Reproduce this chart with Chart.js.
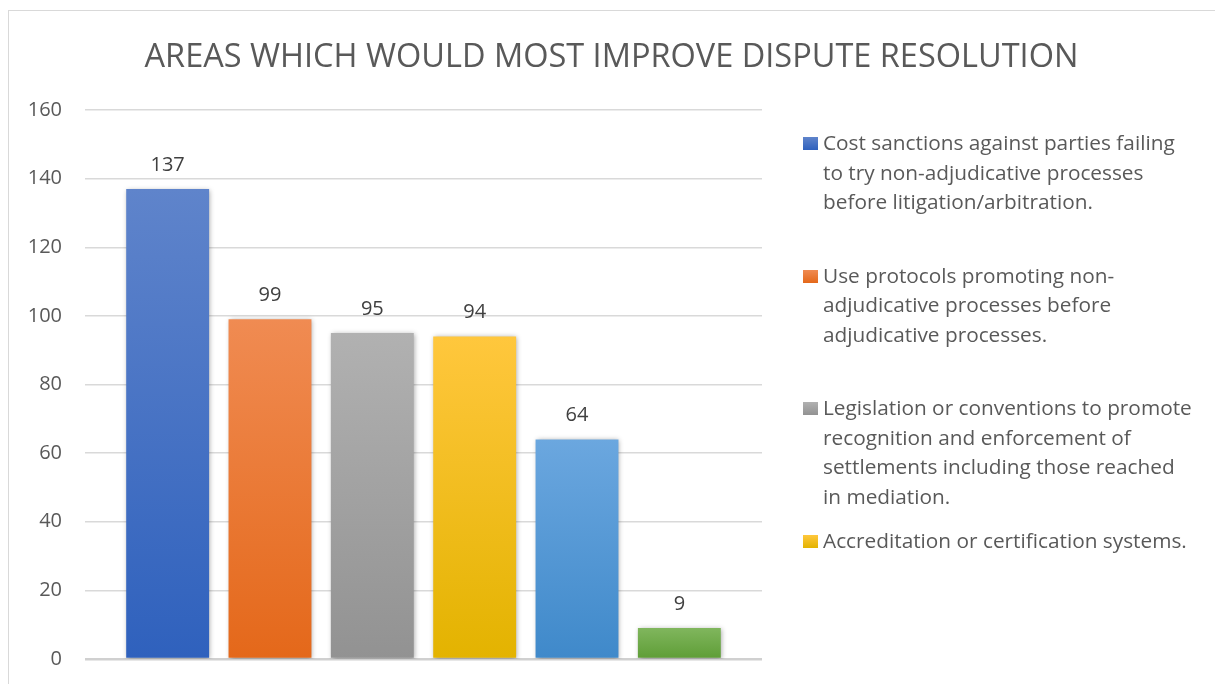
<!DOCTYPE html>
<html>
<head>
<meta charset="utf-8">
<script src="https://cdn.jsdelivr.net/npm/chart.js@4/dist/chart.umd.min.js"></script>
<style>
  body { margin: 0; background: #fff; }
  #wrap { position: relative; width: 1215px; height: 684px; overflow: hidden; }
  #frame { position: absolute; left: 8px; top: 10px; width: 1300px; height: 800px;
           border-top: 1.5px solid #d9d9d9; border-left: 1.5px solid #d9d9d9; }
  #chart { position: absolute; left: 0; top: 10px; }
  #title { position: absolute; left: 0; width: 1223px; top: 32px; text-align: center;
           font-family: "Open Sans", sans-serif; font-size: 32.5px; line-height: 46px;
           color: #595959; white-space: nowrap; }
  #legend { position: absolute; left: 803px; top: 0; font-family: "Open Sans", sans-serif;
            font-size: 20.8px; color: #595959; }
  .item { position: absolute; left: 0; width: 410px; line-height: 29.5px; }
  .box { position: absolute; left: 0; top: 9px; width: 15px; height: 13px; }
  .txt { margin-left: 20px; white-space: nowrap; }
</style>
</head>
<body>
<div id="wrap">
  <div id="frame"></div>
  <canvas id="chart" width="1215" height="684"></canvas>
  <div id="title"></div>
  <div id="legend"></div>
</div>
<script>
const chartTitle = "AREAS WHICH WOULD MOST IMPROVE DISPUTE RESOLUTION";
const seriesLabels = [
  ["Cost sanctions against parties failing", "to try non-adjudicative processes", "before litigation/arbitration."],
  ["Use protocols promoting non-", "adjudicative processes before", "adjudicative processes."],
  ["Legislation or conventions to promote", "recognition and enforcement of", "settlements including those reached", "in mediation."],
  ["Accreditation or certification systems."],
  ["Other measures"],
  ["Other"]
];
const seriesValues = [137, 99, 95, 94, 64, 9];
const yTicks = [0, 20, 40, 60, 80, 100, 120, 140, 160];
const legendShown = 4; // legend is cut off after the 4th entry

// gradient end colours, top -> bottom
const topColors = ["#5f84cb", "#f08b52", "#b1b1b1", "#ffc73d", "#6ba7df", "#80b65d"];
const bottomColors = ["#2f61bd", "#e4681a", "#929292", "#e3b300", "#3f89ca", "#5e9d36"];
const midColors = ["#4472c4", "#ed7d31", "#a5a5a5", "#ffc000", "#5b9bd5", "#70ad47"];

function barFill(c) {
  const i = c.datasetIndex;
  const chart = c.chart;
  if (!chart.chartArea) return midColors[i];
  const y = chart.scales.y;
  const top = y.getPixelForValue(seriesValues[i]);
  const bottom = y.getPixelForValue(0);
  const g = chart.ctx.createLinearGradient(0, top, 0, bottom);
  g.addColorStop(0, topColors[i]);
  g.addColorStop(1, bottomColors[i]);
  return g;
}

const barShadow = {
  id: "barShadow",
  beforeDatasetsDraw(chart) {
    const ctx = chart.ctx;
    ctx.save();
    ctx.shadowColor = "rgba(0,0,0,0.35)";
    ctx.shadowBlur = 5;
    ctx.shadowOffsetX = 1;
    ctx.shadowOffsetY = 1;
  },
  afterDatasetsDraw(chart) {
    const ctx = chart.ctx;
    ctx.restore();
    // value labels above the bars
    ctx.save();
    ctx.font = "20px 'Open Sans', sans-serif";
    ctx.fillStyle = "#404040";
    ctx.textAlign = "center";
    ctx.textBaseline = "middle";
    chart.data.datasets.forEach((ds, i) => {
      const bar = chart.getDatasetMeta(i).data[0];
      ctx.fillText(String(ds.data[0]), bar.x, bar.y - 24);
    });
    ctx.restore();
  }
};

const chart = new Chart(document.getElementById("chart"), {
  type: "bar",
  data: {
    labels: [""],
    datasets: seriesValues.map((v, i) => ({
      label: seriesLabels[i].join(" "),
      data: [v],
      backgroundColor: barFill,
      borderWidth: 0,
      categoryPercentage: 0.907,
      barPercentage: 0.81
    }))
  },
  options: {
    responsive: false,
    animation: false,
    layout: { padding: { left: 23, right: 453, top: 100, bottom: 16 } },
    plugins: {
      legend: { display: false },
      tooltip: { enabled: false }
    },
    scales: {
      x: { display: false },
      y: {
        min: 0,
        max: 160,
        afterBuildTicks: (s) => { s.ticks = yTicks.map((v) => ({ value: v })); },
        afterFit: (s) => { s.width = 62; },
        ticks: { color: "#595959", font: { family: "'Open Sans', sans-serif", size: 20 }, padding: 23 },
        grid: {
          color: (c) => (c.tick && c.tick.value === 0 ? "#d0d0d0" : "#d9d9d9"),
          lineWidth: (c) => (c.tick && c.tick.value === 0 ? 2.5 : 1.5),
          drawTicks: false
        },
        border: { display: false }
      }
    }
  },
  plugins: [barShadow]
});

document.getElementById("title").textContent = chartTitle;

// html legend, only the entries that fit in the original
const legendEl = document.getElementById("legend");
chart.data.datasets.slice(0, legendShown).forEach((ds, i) => {
  const item = document.createElement("div");
  item.className = "item";
  item.style.top = (128 + i * 132.5) + "px";
  item.innerHTML = `<span class="box" style="background:linear-gradient(${topColors[i]}, ${bottomColors[i]})"></span>
    <div class="txt">${seriesLabels[i].join("<br>")}</div>`;
  legendEl.appendChild(item);
});
</script>
</body>
</html>
